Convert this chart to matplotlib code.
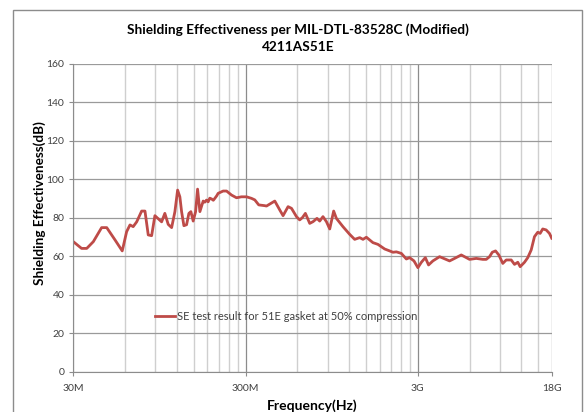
"""
Shielding effectiveness of gasket 4211AS51E, per MIL-DTL-83528C (modified).
"""

import matplotlib
matplotlib.use("Agg")
import matplotlib.pyplot as plt
from matplotlib.patches import Rectangle
from matplotlib.ticker import FixedLocator, NullFormatter

# frequency in MHz, shielding effectiveness in dB
freq_mhz = [30, 33.5, 35.9, 39.2, 43.8, 46.9, 52.4, 57.7, 61.2, 64, 66.8, 70,
            74.8, 78.2, 81.7, 85.5, 89.3, 97.7, 102, 106.7, 111.7, 116.7, 121,
            124.7, 127.6, 131.6, 136.4, 140.7, 144.5, 149, 153.9, 158, 163,
            170.3, 174, 178, 182, 186, 190.5, 195, 199, 204, 208, 222.4, 232.8,
            248.9, 266, 284, 304, 325, 339.6, 358, 388, 397, 443.7, 474, 495.6,
            530, 555, 593, 619, 642, 668, 708, 740, 780, 809, 845, 885, 925,
            975, 1011, 1104, 1208, 1291, 1381, 1443, 1510, 1648, 1762, 1928,
            2061, 2154, 2255, 2410, 2577, 2692, 2853, 3007, 3150, 3321, 3468,
            3674, 4018, 4296, 4593, 4911, 5370, 6000, 6564, 7165, 7500, 7837,
            8130, 8493, 8873, 9358, 9798, 10473, 10944, 11433, 11808, 12507,
            13065, 13680, 14292, 14931, 15420, 15960, 16710, 17460, 18000]
se_db = [67.7, 64.2, 64.2, 67.7, 75.0, 75.0, 68.6, 62.9, 72.9, 76.4, 75.5, 78.0,
         83.6, 83.6, 71.2, 70.8, 81.2, 78.0, 82.4, 76.7, 75.0, 83.3, 94.5,
         91.0, 83.3, 76.0, 76.5, 82.4, 83.3, 78.4, 83.3, 95.0, 83.3,
         88.8, 88.2, 89.3, 88.4, 90.3, 89.9, 89.2, 90.2, 91.5, 92.8, 94.0, 94.0,
         91.9, 90.5, 91.0, 91.0, 90.2, 89.4, 86.8, 86.4, 86.2, 88.8, 84.2, 81.2,
         85.9, 85.0, 80.7, 79.0, 80.2, 82.4, 77.2, 78.1, 79.8, 78.4, 80.7, 78.1, 74.3,
         83.6, 79.8, 75.5, 71.5, 68.9, 69.8, 68.9, 70.0, 67.2, 66.3, 63.9,
         62.9, 62.2, 62.4, 61.6, 58.7, 59.4, 57.7, 54.2, 57.0, 59.4, 55.6,
         57.7, 59.9, 58.8, 57.7, 59.0, 60.8, 58.5, 59.0, 58.5, 58.5, 59.9,
         62.2, 62.9, 60.8, 56.4, 58.2, 58.2, 55.9, 57.0, 54.7, 57.0,
         59.4, 63.4, 70.3, 72.6, 72.0, 74.3, 73.8, 72.0, 69.5]

major_ticks = [30, 300, 3000, 18000]
major_labels = ["30M", "300M", "3G", "18G"]
minor_ticks = [60, 90, 120, 150, 180, 210, 240, 270,
               600, 900, 1200, 1500, 1800, 2100, 2400, 2700,
               6000, 9000, 12000, 15000, 18000]

FUENTE = "Lato"
plt.rcParams["font.family"] = [FUENTE, "DejaVu Sans"]

fig = plt.figure(figsize=(5.87, 4.12), dpi=100)
ax = fig.add_axes([0.1249, 0.0971, 0.815, 0.7476])

ax.plot(freq_mhz, se_db, color="#BE4B48", linewidth=2.0,
        label="SE test result for 51E gasket at 50% compression")

ax.set_xscale("log")
ax.set_xlim(30, 18000)
ax.set_ylim(0, 160)
ax.xaxis.set_major_locator(FixedLocator(major_ticks))
ax.set_xticklabels(major_labels)
ax.xaxis.set_minor_locator(FixedLocator(minor_ticks))
ax.xaxis.set_minor_formatter(NullFormatter())
ax.set_yticks(range(0, 161, 20))

ax.grid(True, axis="y", color="#9A9A9A", linewidth=0.9)
ax.grid(True, axis="x", which="minor", color="#CFCFCF", linewidth=1.0)
ax.grid(True, axis="x", which="major", color="#8C8C8C", linewidth=0.9)
ax.set_axisbelow(True)

for lado in ["top", "right"]:
    ax.spines[lado].set_visible(False)
for lado in ["left", "bottom"]:
    ax.spines[lado].set_color("#8C8C8C")
ax.tick_params(axis="both", which="major", length=3, color="#8C8C8C",
               labelsize=7.5, labelcolor="#404040")
ax.tick_params(axis="x", which="minor", length=0)
ax.tick_params(axis="x", which="major", pad=6)

ax.set_xlabel("Frequency(Hz)", fontsize=10, fontweight="bold", labelpad=4)
ax.set_ylabel("Shielding Effectiveness(dB)", fontsize=9.7, fontweight="bold")
ax.yaxis.set_label_coords(-0.057, 0.55)

ax.legend(loc="center left", bbox_to_anchor=(0.171, 0.179), frameon=False,
          borderaxespad=0, borderpad=0, handlelength=1.8, handletextpad=0.2,
          fontsize=8.0, labelcolor="#404040")

fig.text(0.508, 0.927, "Shielding Effectiveness per MIL-DTL-83528C (Modified)",
         ha="center", va="center", fontsize=9.8, fontweight="bold")
fig.text(0.508, 0.885, "4211AS51E", ha="center", va="center",
         fontsize=9.8, fontweight="bold")

# marco exterior del gráfico
fig.patches.append(Rectangle((13 / 587, -0.02), 569 / 587, 0.9957,
                             transform=fig.transFigure, fill=False,
                             edgecolor="#8C8C8C", linewidth=1.0))

fig.savefig("out.png", dpi=100)
